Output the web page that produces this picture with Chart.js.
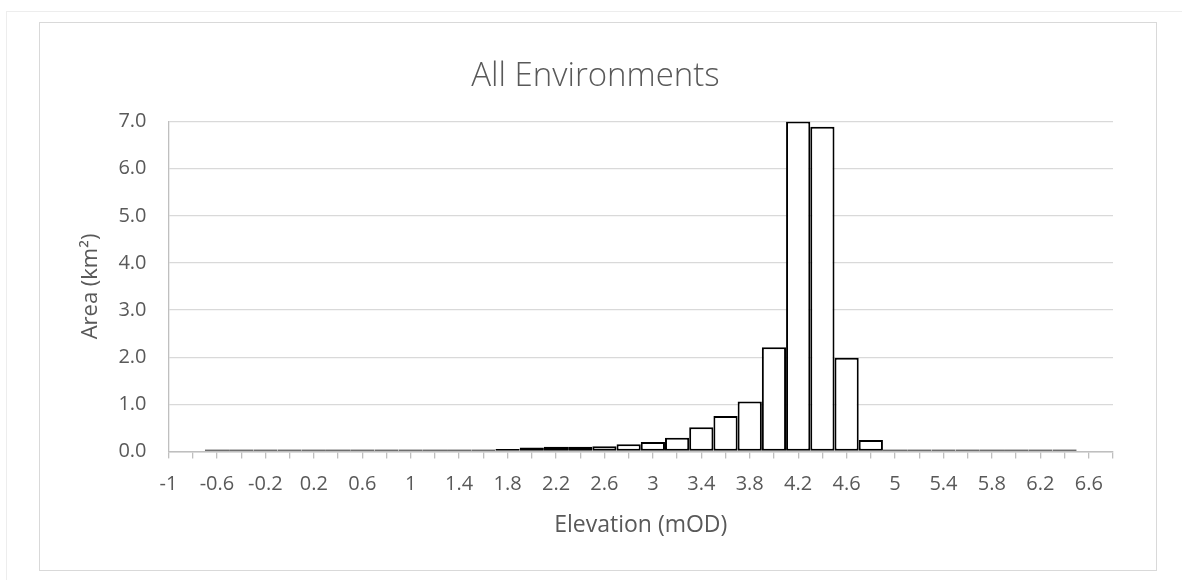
<!DOCTYPE html>
<html>
<head>
<meta charset="utf-8">
<script src="https://cdn.jsdelivr.net/npm/chart.js@4"></script>
<style>
  body { margin: 0; background: #fff; }
  #outer { position: absolute; left: 6px; top: 11px; width: 1200px; height: 600px; border: 1px solid #ededed; }
  #box { position: absolute; left: 39px; top: 22px; width: 1116px; height: 547px; border: 1px solid #d9d9d9; background: #fff; }
</style>
</head>
<body>
<div id="outer"></div>
<div id="box"><canvas id="myChart"></canvas></div>
<script>
// elevation bins (mOD), one every 0.2
var elevations = ['-1','-0.8','-0.6','-0.4','-0.2','0','0.2','0.4','0.6','0.8',
  '1','1.2','1.4','1.6','1.8','2','2.2','2.4','2.6','2.8',
  '3','3.2','3.4','3.6','3.8','4','4.2','4.4','4.6','4.8',
  '5','5.2','5.4','5.6','5.8','6','6.2','6.4','6.6','6.8'];

// area in km2 per bin
var areas = [null, null, 0, 0, 0, 0, 0, 0, 0, 0,
  0, 0.02, 0.02, 0.03, 0.05, 0.085, 0.1, 0.1, 0.11, 0.15,
  0.2, 0.29, 0.51, 0.75, 1.06, 2.21, 7.0, 6.89, 1.99, 0.24,
  0, 0, 0, 0, 0, 0, 0, 0, null, null];

var yTicks = [0, 1, 2, 3, 4, 5, 6, 7];

var txt = '#595959';
var fnt = "'Open Sans', sans-serif";

var ctx = document.getElementById('myChart').getContext('2d');
var myChart = new Chart(ctx, {
    type: 'bar',
    data: {
      labels: elevations,
      datasets: [{
          data: areas,
          backgroundColor: '#ffffff',
          borderColor: '#000000',
          borderWidth: 2,
          borderSkipped: false,
          inflateAmount: 0,
          minBarLength: 2,
          categoryPercentage: 1.0,
          barPercentage: 1.0
      }]
    },
    options: {
      responsive: true,
      maintainAspectRatio: false,
      animation: false,
      layout: {
        padding: { left: 38, right: 43, top: 0, bottom: 31 }
      },
      scales: {
        x: {
          offset: false,
          grid: {
            offset: false,
            drawOnChartArea: false,
            tickLength: 7,
            color: '#bfbfbf',
            lineWidth: 1.3
          },
          border: { color: '#bfbfbf', width: 1.5 },
          ticks: {
            autoSkip: false,
            maxRotation: 0,
            padding: 14,
            color: txt,
            font: { family: fnt, size: 20 },
            callback: function (v, i) { return i % 2 === 0 ? elevations[i] : ''; }
          },
          title: {
            display: true,
            text: 'Elevation (mOD)',
            color: txt,
            font: { family: fnt, size: 23 },
            padding: { top: 1, bottom: 0 }
          }
        },
        y: {
          min: 0,
          max: 7,
          afterBuildTicks: function (axis) {
            axis.ticks = yTicks.map(function (v) { return { value: v }; });
          },
          grid: {
            color: '#d9d9d9',
            lineWidth: 1.3,
            drawTicks: false
          },
          border: { color: '#bfbfbf', width: 1.3 },
          ticks: {
            padding: 22,
            color: txt,
            font: { family: fnt, size: 20 },
            callback: function (v) { return v.toFixed(1); }
          },
          title: {
            display: true,
            text: 'Area (km\u00b2)',
            color: txt,
            font: { family: fnt, size: 22 },
            padding: { top: 0, bottom: -8 }
          }
        }
      },
      plugins: {
        legend: { display: false },
        tooltip: { enabled: false },
        title: {
          display: true,
          text: 'All Environments',
          color: txt,
          font: { family: fnt, size: 33, weight: '300' },
          padding: { top: 34, bottom: 25 }
        }
      }
    }
});
</script>
</body>
</html>
